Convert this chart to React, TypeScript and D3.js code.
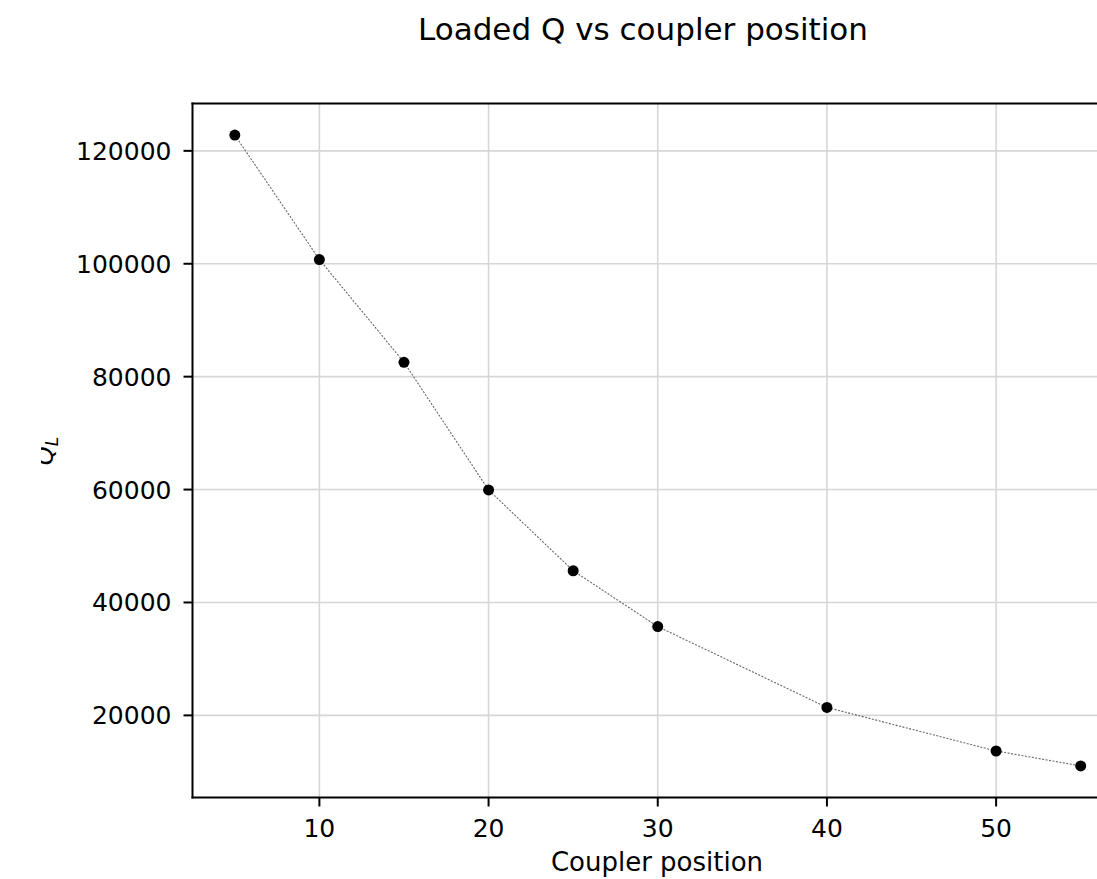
import React from "react";
import * as d3 from "d3";

// Coupler position vs measured loaded quality factor
const couplerPositions = [5, 10, 15, 20, 25, 30, 40, 50, 55];
const loadedQ = [122800, 100750, 82550, 59930, 45620, 35730, 21410, 13690, 11040];
const xTicks = [10, 20, 30, 40, 50];
const yTicks = [20000, 40000, 60000, 80000, 100000, 120000];

const W = 1097;
const H = 879;
const plot = { left: 192.5, right: 1123, top: 103.5, bottom: 797.5 };
const FONT = "DejaVu Sans, sans-serif";

// matplotlib-style 5% data margins
function padded(values: number[]): [number, number] {
  const [lo, hi] = d3.extent(values) as [number, number];
  const m = (hi - lo) * 0.05;
  return [lo - m, hi + m];
}

export default function App() {
  const x = d3.scaleLinear().domain(padded(couplerPositions)).range([plot.left, plot.right]);
  const y = d3.scaleLinear().domain(padded(loadedQ)).range([plot.bottom, plot.top]);
  const pts = couplerPositions.map((c, i) => [c, loadedQ[i]] as [number, number]);
  const line = d3
    .line<[number, number]>()
    .x((d) => x(d[0]))
    .y((d) => y(d[1]));

  return (
    <svg
      width={W}
      height={H}
      style={{ position: "absolute", left: 0, top: 0, background: "#fff" }}
      fontFamily={FONT}
    >
      <defs>
        <clipPath id="ylab-clip">
          <rect x={41} y={0} width={100} height={H} />
        </clipPath>
      </defs>

      {/* grid */}
      <g stroke="#d6d6d6" strokeWidth={1.6}>
        {xTicks.map((t) => (
          <line key={"gx" + t} x1={x(t)} x2={x(t)} y1={plot.top} y2={plot.bottom} />
        ))}
        {yTicks.map((t) => (
          <line key={"gy" + t} x1={plot.left} x2={plot.right} y1={y(t)} y2={y(t)} />
        ))}
      </g>

      {/* data */}
      <path d={line(pts) ?? ""} fill="none" stroke="#666" strokeWidth={1.1} strokeDasharray="2,1.5" />
      {pts.map((d, i) => (
        <circle key={i} cx={x(d[0])} cy={y(d[1])} r={5.5} fill="#000" />
      ))}

      {/* spines */}
      <g stroke="#000" strokeWidth={2} fill="none">
        <line x1={plot.left} x2={plot.left} y1={plot.top - 1} y2={plot.bottom + 1} />
        <line x1={plot.left - 1} x2={plot.right} y1={plot.bottom} y2={plot.bottom} />
        <line x1={plot.left - 1} x2={plot.right} y1={plot.top} y2={plot.top} />
      </g>

      {/* x ticks */}
      {xTicks.map((t) => (
        <g key={"xt" + t}>
          <line x1={x(t)} x2={x(t)} y1={plot.bottom} y2={plot.bottom + 9} stroke="#000" strokeWidth={2} />
          <text x={x(t)} y={837} textAnchor="middle" fontSize={25} fill="#000">
            {t}
          </text>
        </g>
      ))}

      {/* y ticks */}
      {yTicks.map((t) => (
        <g key={"yt" + t}>
          <line x1={plot.left - 9} x2={plot.left} y1={y(t)} y2={y(t)} stroke="#000" strokeWidth={2} />
          <text x={plot.left - 21} y={y(t)} dy="0.36em" textAnchor="end" fontSize={25} fill="#000">
            {t}
          </text>
        </g>
      ))}

      {/* labels */}
      <text x={657} y={871} textAnchor="middle" fontSize={26} fill="#000">
        Coupler position
      </text>
      <g clipPath="url(#ylab-clip)">
        <text
          transform="translate(53,451) rotate(-90)"
          textAnchor="middle"
          fontSize={24}
          fontStyle="italic"
          fill="#000"
        >
          Q<tspan fontSize={17} dy={5}>L</tspan>
        </text>
      </g>
      <text x={643} y={40} textAnchor="middle" fontSize={31} fill="#000">
        Loaded Q vs coupler position
      </text>
    </svg>
  );
}
